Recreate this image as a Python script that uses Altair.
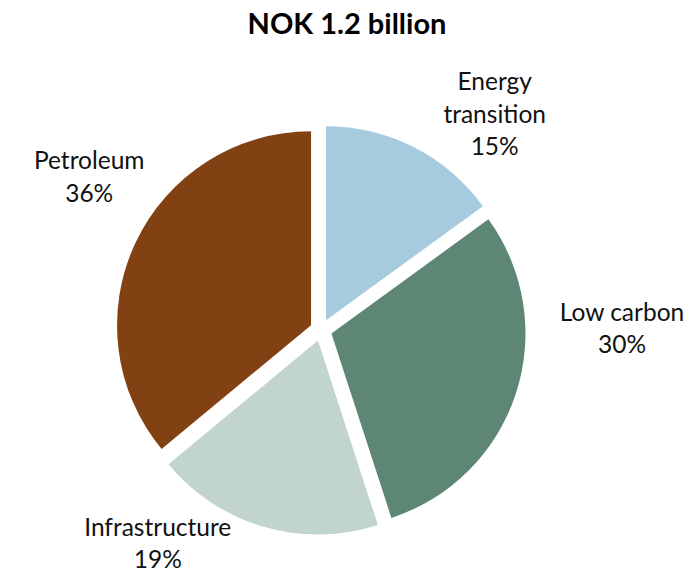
import altair as alt
import pandas as pd

# ---- data ----
categories = ["Energy transition", "Low carbon", "Infrastructure", "Petroleum"]
label_names = ["Energy\ntransition", "Low carbon", "Infrastructure", "Petroleum"]
shares = [15, 30, 19, 36]
colors = ["#A6CBDF", "#5D8674", "#C2D5CD", "#824113"]
title_text = "NOK 1.2 billion"

# ---- layout (style, not data) ----
PAD_TOP = 48
CX, CY = 313, 330 - 8 - PAD_TOP
RADIUS = 194
EXPLODE = 11
label_angle_shift = [12, -18, 21, 8]      # degrees, relative to slice mid-angle
label_dist = [276, 301, 270, 277]
LINE_H = 32.5
FONT = "Lato"

df = pd.DataFrame({
    "order": list(range(len(categories))),
    "category": categories,
    "name": label_names,
    "value": shares,
    "shift": label_angle_shift,
    "ldist": label_dist,
})

base = alt.Chart(df).transform_joinaggregate(
    total="sum(value)"
).transform_window(
    cum="sum(value)", sort=[alt.SortField("order")], frame=[None, 0]
).transform_calculate(
    start="2*PI*(datum.cum - datum.value)/datum.total",
    end="2*PI*datum.cum/datum.total",
).transform_calculate(
    mid="(datum.start + datum.end)/2",
).transform_calculate(
    px=f"{CX} + {EXPLODE}*sin(datum.mid)",
    py=f"{CY} - {EXPLODE}*cos(datum.mid)",
    lang="datum.mid + datum.shift*PI/180",
    label="datum.name + '\\n' + datum.value + '%'",
).transform_calculate(
    lx=f"{CX} + datum.ldist*sin(datum.lang)",
    ly=f"{CY} - datum.ldist*cos(datum.lang) - (length(split(datum.label, '\\n')) - 1)*{LINE_H}/2",
)

pie = base.mark_arc(radius=RADIUS, stroke=None).encode(
    theta=alt.Theta("start:Q", scale=None),
    theta2="end:Q",
    x=alt.X("px:Q", scale=None),
    y=alt.Y("py:Q", scale=None),
    color=alt.Color("category:N", scale=alt.Scale(domain=categories, range=colors), legend=None),
)

labels = base.mark_text(
    font=FONT, fontSize=24.5, color="#111111", lineBreak="\n", lineHeight=LINE_H,
    align="center", baseline="middle",
).encode(
    x=alt.X("lx:Q", scale=None),
    y=alt.Y("ly:Q", scale=None),
    text="label:N",
)

chart = alt.layer(pie, labels).properties(
    width=678,
    height=565 - PAD_TOP,
    title=alt.Title(title_text, font=FONT, fontSize=29, fontWeight="bold",
                    color="#000000", anchor="middle", offset=16),
    padding={"left": 0, "top": PAD_TOP, "right": 0, "bottom": 0},
    autosize=alt.AutoSizeParams(type="none"),
).configure_view(stroke=None)

chart.save("out.html", embed_options={"renderer": "svg", "actions": False})
